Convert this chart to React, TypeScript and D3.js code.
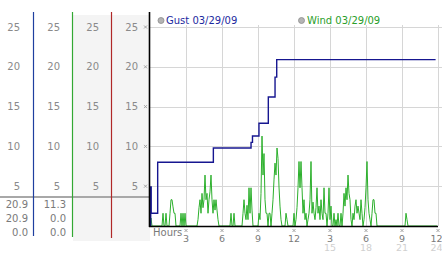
import React from 'react';
import * as d3 from 'd3';

const W = 442;
const H = 253;

const yTicks = [5, 10, 15, 20, 25];
const xTicks = [3, 6, 9, 12, 15, 18, 21, 24];
const xTickLabels = ['3', '6', '9', '12', '3', '6', '9', '12'];
const xTickSubLabels = ['', '', '', '', '15', '18', '21', '24'];

const gustLabel = 'Gust 03/29/09';
const windLabel = 'Wind 03/29/09';
const gustStats = ['20.9', '20.9', '0.0'];
const windStats = ['11.3', '0.0', '0.0'];

const gustHours = [0, 0.06, 0.1, 0.64, 5.28, 8.42, 8.54, 9.08, 9.86, 10.42, 10.56, 23.8];
const gustValues = [0, 4.9, 1.6, 8.0, 9.8, 10.5, 11.3, 12.9, 16.2, 18.7, 20.9, 20.9];

// wind, 5-minute samples, one row per hour
const windValues = [
  0, 1, 0, 0, 0, 0, 0, 0, 0, 0, 0, 0,
  0, 1.6, 0, 0, 1.6, 0, 0, 0, 1.6, 3.3, 3.3, 2.4,
  1.6, 1.6, 0, 0, 0, 0, 0, 1.6, 0, 1.6, 0, 1.6,
  0, 0, 0, 0, 0, 0, 0, 0, 0, 0, 0, 0,
  0.8, 2.3, 3.3, 1.6, 4.1, 2.3, 3.3, 6.4, 3.3, 4.1, 1.6, 3.3,
  4.3, 6.4, 3.3, 1.6, 3.3, 2.0, 3.3, 2.0, 0.8, 0, 0, 0,
  0, 0, 0, 0, 0, 0, 0, 0, 0, 1.6, 0, 0,
  1.6, 0, 0, 0, 0, 0, 0, 0, 0, 1.6, 3.3, 1.6,
  0.8, 2.6, 0.8, 4.8, 1.6, 4.8, 2.0, 0, 0, 0, 0, 0,
  0, 1.6, 0.8, 4.1, 11.3, 6.4, 9.1, 3.3, 1.6, 1.6, 0, 1.6,
  1.6, 0, 1.6, 3.3, 5.8, 7.9, 6.4, 9.8, 8.5, 4.9, 2.5, 0.8,
  0, 0, 0, 0, 1.6, 0.8, 0, 0, 0, 0, 0, 0,
  1.6, 0, 0.8, 2.3, 4.8, 8.1, 4.8, 8.1, 4.8, 1.6, 3.3, 0.8,
  1.6, 0, 0.8, 1.6, 3.3, 8.1, 1.6, 3.0, 1.6, 0.8, 2.3, 4.8,
  1.6, 2.5, 0.8, 3.3, 1.6, 0.8, 4.8, 1.6, 1.6, 0, 1.6, 4.8,
  0.8, 2.5, 0, 0, 1.6, 0, 0.8, 0, 1.6, 0, 0, 1.6,
  0, 1.6, 4.1, 2.5, 4.8, 3.3, 6.4, 4.1, 3.3, 0.8, 0, 1.6,
  0.8, 2.5, 3.3, 1.6, 2.5, 1.6, 0.8, 3.3, 1.6, 0, 0.8, 2.3,
  4.8, 8.1, 3.3, 1.6, 0.8, 0, 1.6, 3.3, 3.3, 1.6, 1.6, 0,
  0, 0, 0, 0, 0, 0, 0, 0, 0, 0, 0, 0,
  0, 0, 0, 0, 0, 0, 0, 0, 0, 0, 0, 0,
  0, 0, 0, 0, 1.6, 0.8, 0, 0, 0, 0, 0, 0,
  0, 0, 0, 0, 0, 0, 0, 0, 0, 0, 0, 0,
  0, 0, 0, 0, 0, 0, 0, 0, 0, 0, 0, 0,
];

const FONT = 'DejaVu Sans, Verdana, sans-serif';

function Glyph({ x, y }: { x: number; y: number }) {
  return (
    <path
      d={`M${x - 1.5},${y - 1.5}l3,3M${x + 1.5},${y - 1.5}l-3,3`}
      stroke="#9a9a9a"
      strokeWidth={0.9}
      fill="none"
    />
  );
}

export default function App() {
  const x = d3.scaleLinear().domain([0, 24]).range([150, 438]);
  const y = d3.scaleLinear().domain([0, 25]).range([226, 27]);

  const gustLine = d3
    .line<number>()
    .x((_, i) => x(gustHours[i]))
    .y((d) => y(d))
    .curve(d3.curveStepAfter)(gustValues) as string;

  const windLine = d3
    .line<number>()
    .x((_, i) => x(i / 12))
    .y((d) => y(d))(windValues) as string;

  const panels = [
    { left: 0, right: 33, color: '#1f3f9f', bg: '#ffffff', labelX: 20, stats: gustStats, statX: 28, lineEnd: 236 },
    { left: 34, right: 72, color: '#33a833', bg: '#ffffff', labelX: 60, stats: windStats, statX: 66, lineEnd: 237 },
    { left: 73, right: 111, color: '#b02828', bg: '#f4f4f4', labelX: 99, stats: [] as string[], statX: 0, lineEnd: 238 },
    { left: 112, right: 149, color: '', bg: '#f4f4f4', labelX: 138, stats: [] as string[], statX: 0, lineEnd: 0 },
  ];

  const statYs = [204, 218, 232];

  return (
    <svg
      width={W}
      height={H}
      style={{ position: 'absolute', left: 0, top: 0, background: '#fff' }}
      fontFamily={FONT}
    >
      {panels.map((p, i) => (
        <rect key={`bg${i}`} x={p.left} y={15} width={p.right - p.left + 1} height={226} fill={p.bg} />
      ))}
      <line x1={0} x2={150} y1={197} y2={197} stroke="#a8a8a8" strokeWidth={2} />
      {panels.map((p, i) =>
        yTicks.map((t) => (
          <text key={`pl${i}-${t}`} x={p.labelX} y={y(t)} dy="0.35em" textAnchor="end" fontSize={10} fill="#8a8a8a">
            {t}
          </text>
        ))
      )}
      {panels.map((p, i) =>
        p.stats.map((s, j) => (
          <text key={`st${i}-${j}`} x={p.statX} y={statYs[j]} dy="0.35em" textAnchor="end" fontSize={10} fill="#7a7a7a">
            {s}
          </text>
        ))
      )}
      {panels.map((p, i) =>
        p.color ? (
          <line key={`pline${i}`} x1={p.right + 0.5} x2={p.right + 0.5} y1={12} y2={p.lineEnd} stroke={p.color} strokeWidth={1.2} />
        ) : null
      )}
      {yTicks.map((t) => (
        <Glyph key={`yg${t}`} x={145.5} y={y(t)} />
      ))}

      {yTicks.map((t) => (
        <line key={`hg${t}`} x1={150} x2={W} y1={Math.round(y(t)) + 0.5} y2={Math.round(y(t)) + 0.5} stroke="#d6d6d6" strokeWidth={1} />
      ))}
      {xTicks.map((t) => (
        <line key={`vg${t}`} x1={Math.round(x(t)) + 0.5} x2={Math.round(x(t)) + 0.5} y1={25} y2={226} stroke="#d6d6d6" strokeWidth={1} />
      ))}

      <circle cx={161} cy={20.5} r={3} fill="#b4b4b4" stroke="#8c8c8c" strokeWidth={0.8} />
      <text x={166} y={20.5} dy="0.35em" fontSize={10} fill="#1c2aa0">
        {gustLabel}
      </text>
      <circle cx={301.5} cy={20.5} r={3} fill="#b4b4b4" stroke="#8c8c8c" strokeWidth={0.8} />
      <text x={307} y={20.5} dy="0.35em" fontSize={10} fill="#2a9e2a">
        {windLabel}
      </text>

      <path d={windLine} fill="none" stroke="#2cb02c" strokeWidth={1} />
      <path d={gustLine} fill="none" stroke="#161690" strokeWidth={1.4} />

      <line x1={149.5} x2={149.5} y1={12} y2={227} stroke="#000" strokeWidth={1.6} />
      <line x1={149} x2={438} y1={226.5} y2={226.5} stroke="#000" strokeWidth={1.4} />

      <text x={153} y={232.5} dy="0.35em" fontSize={10} fill="#7a7a7a">
        Hours
      </text>
      {xTicks.map((t, i) => (
        <g key={`xt${t}`}>
          <Glyph x={x(t)} y={230.5} />
          <text x={Math.min(x(t), 436.5)} y={238.5} dy="0.35em" textAnchor="middle" fontSize={9.5} fill="#7a7a7a">
            {xTickLabels[i]}
          </text>
          {xTickSubLabels[i] ? (
            <text x={Math.min(x(t), 436.5)} y={248} dy="0.35em" textAnchor="middle" fontSize={9.5} fill="#d0d0d0">
              {xTickSubLabels[i]}
            </text>
          ) : null}
        </g>
      ))}
    </svg>
  );
}
